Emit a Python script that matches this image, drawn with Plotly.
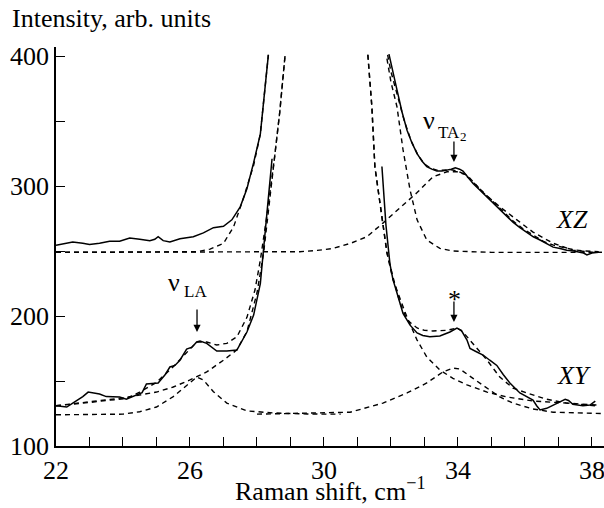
import plotly.graph_objects as go

# ---------------- data ----------------
# XZ spectrum (solid), left and right of the laser line
xz_data_left_x = [22.0, 22.3, 22.5, 22.8, 23.0, 23.3, 23.6, 23.9, 24.2, 24.5, 24.8, 24.95, 25.05, 25.2, 25.4,
                  25.7, 26.1, 26.4, 26.7, 27.0, 27.25, 27.5, 27.7, 27.9, 28.1, 28.34]
xz_data_left_y = [254.5, 256, 257, 256, 255, 256, 257.5, 257.5, 260, 259, 258, 259, 261, 258, 257,
                  259.5, 261, 264, 268, 269, 274, 284, 298, 318, 340, 401]
xz_data_right_x = [31.94, 32.05, 32.18, 32.33, 32.48, 32.63, 32.78, 32.93, 33.07, 33.22, 33.37, 33.52, 33.67,
                   33.8, 33.92, 34.05, 34.15, 34.3, 34.45, 34.65, 34.87, 35.05, 35.25, 35.45, 35.65, 35.85,
                   36.05, 36.25, 36.45, 36.65, 36.84, 37.05, 37.25, 37.45, 37.64, 37.75, 37.85, 38.0, 38.2]
xz_data_right_y = [401.5, 388, 374, 357, 343, 333, 325, 319, 315, 313, 311.5, 311.5, 312,
                   313, 314, 313, 311.5, 307, 302, 297, 291.5, 287, 281.5, 277, 272, 268,
                   264.6, 261, 258.5, 255.5, 253, 252, 250.7, 250, 249, 248.5, 247, 248.5, 249]
# XZ fits (dashed)
xz_center_left_x = [22.0, 25.5, 26.2, 26.6, 27.0, 27.3, 27.6, 27.9, 28.1, 28.34]
xz_center_left_y = [249, 249, 249.5, 251.5, 256, 268.5, 291, 316, 340, 401]
xz_center_right_x = [31.88, 32.0, 32.18, 32.36, 32.57, 32.78, 33.07, 33.46, 33.85, 35.0, 38.3]
xz_center_right_y = [398, 380, 361, 328, 297, 274, 258.5, 252, 250, 249, 249]
xz_ta2_x = [22.0, 28.5, 29.28, 29.8, 30.27, 30.8, 31.28, 31.76, 32.27, 32.78, 33.25, 33.67, 33.97, 34.27,
            34.75, 35.25, 35.76, 36.24, 36.84, 37.43, 38.03, 38.3]
xz_ta2_y = [249, 249, 249.5, 250.5, 252, 256, 261, 271.5, 283, 295, 307, 311, 311, 308.5,
            295, 284, 274, 264.6, 256, 250.7, 249, 249]
xz_total_right_x = [31.9, 32.0, 32.18, 32.4, 32.6, 32.8, 33.0, 33.2, 33.4, 33.6, 33.8, 34.0, 34.2, 34.45,
                    34.75, 35.05, 35.35, 35.65, 35.95, 36.25, 36.55, 36.85, 37.15, 37.45, 37.8, 38.2]
xz_total_right_y = [401, 388, 371, 350, 335, 324, 317, 313.5, 312, 312.5, 312.5, 311.5, 309, 303,
                    295.5, 288, 280, 273, 267, 262, 257.5, 254.5, 252.5, 251, 250, 249.5]

# XY spectrum (solid)
xy_data_left_x = [22.0, 22.32, 22.5, 22.8, 22.96, 23.3, 23.5, 23.9, 24.1, 24.4, 24.57, 24.7, 25.05, 25.25,
                  25.4, 25.55, 25.7, 25.9, 26.06, 26.2, 26.3, 26.5, 26.8, 27.1, 27.4, 27.7, 27.9, 28.1,
                  28.18, 28.3, 28.45]
xy_data_left_y = [131, 130, 133, 138, 141.5, 140, 138, 137.7, 136, 139, 141, 147.7, 148.5, 154.6,
                  160.8, 162, 166, 174.6, 176, 180, 180.8, 179, 173, 173, 173.8, 187.7, 200.7, 225,
                  249, 280, 321]
xy_data_right_x = [31.73, 31.85, 31.97, 32.06, 32.18, 32.36, 32.57, 32.78, 32.95, 33.16, 33.46, 33.76, 33.97,
                   34.1, 34.27, 34.36, 34.55, 34.75, 34.95, 35.16, 35.35, 35.55, 35.85, 36.24, 36.35, 36.45,
                   36.65, 36.96, 37.2, 37.3, 37.43, 37.73, 37.94, 38.1]
xy_data_right_y = [315, 270, 240, 228, 217.7, 202, 193, 187, 185, 184, 184.6, 187.7, 190.8,
                   189, 181.5, 175, 172.5, 170, 166, 162, 155, 148.5, 140.8, 135.4, 131, 127.7,
                   129, 133, 136, 135, 132, 131, 131.5, 134.6]
# XY fits (dashed)
xy_total_left_x = [22.0, 22.5, 23.0, 23.5, 24.1, 24.5, 25.0, 25.5, 25.9, 26.2, 26.5, 26.8, 27.1, 27.4,
                   27.7, 27.94, 28.1, 28.3, 28.52, 28.68, 28.84]
xy_total_left_y = [131, 132, 133.5, 135, 136.5, 141.5, 149, 161, 172, 180, 180, 177.7, 179, 184,
                   199, 220, 243, 278, 321, 357, 401]
xy_center_left_x = [22.0, 23.0, 24.0, 25.0, 25.5, 26.0, 26.5, 27.0, 27.4, 27.7, 28.0, 28.2, 28.52, 28.68, 28.84]
xy_center_left_y = [131, 134, 137, 141.5, 145.4, 150.8, 157, 166, 174, 188, 217.7, 249, 321, 357, 401]
xy_la_x = [22.0, 24.0, 24.5, 25.0, 25.5, 25.9, 26.2, 26.4, 26.7, 27.1, 27.7, 28.5, 29.5, 30.5]
xy_la_y = [124, 124.5, 126.4, 130, 138, 147, 153, 150.8, 141.8, 133, 127, 125.4, 124.6, 124.5]
xy_star_x = [28.0, 29.28, 30.78, 31.76, 32.48, 33.07, 33.55, 33.85, 34.06, 34.45, 34.87, 35.25, 35.64,
             36.24, 36.84, 38.03, 38.3]
xy_star_y = [124.5, 125.4, 126, 133, 140.8, 148.5, 157, 160, 159.2, 152, 144.6, 137.7, 133,
             128.5, 126, 125, 125]
xy_total_right_x = [31.31, 31.43, 31.52, 31.73, 31.88, 32.06, 32.27, 32.48, 32.78, 33.0, 33.25, 33.67, 33.97,
                    34.15, 34.45, 34.87, 35.25, 35.64, 36.05, 36.65, 37.25, 38.15]
xy_total_right_y = [401, 361, 315, 274, 249, 230, 210, 197, 190.8, 189, 188.5, 189, 190.8,
                    187.7, 179, 166, 153, 144.6, 140.8, 136, 133, 131.5]
xy_center_right_x = [31.31, 31.43, 31.52, 31.73, 31.88, 32.06, 32.48, 32.78, 33.07, 33.46, 33.85, 34.27,
                     34.87, 35.46, 36.24, 37.25, 38.15]
xy_center_right_y = [401, 361, 314.6, 274, 248.5, 228, 199, 181.5, 168.5, 158.5, 152, 147,
                     141.5, 137.7, 134.6, 133, 130.8]

x_tick_labels = [22, 26, 30, 34, 38]
y_tick_labels = [100, 200, 300, 400]

# ---------------- figure ----------------
FONT = "Liberation Serif"
fig = go.Figure()

solid = dict(color="black", width=1.5)
dashed = dict(color="black", width=1.4, dash="5px,4px")

series = [
    (xz_center_left_x, xz_center_left_y, dashed),
    (xz_center_right_x, xz_center_right_y, dashed),
    (xz_ta2_x, xz_ta2_y, dashed),
    (xz_total_right_x, xz_total_right_y, dashed),
    (xy_total_left_x, xy_total_left_y, dashed),
    (xy_center_left_x, xy_center_left_y, dashed),
    (xy_la_x, xy_la_y, dashed),
    (xy_star_x, xy_star_y, dashed),
    (xy_total_right_x, xy_total_right_y, dashed),
    (xy_center_right_x, xy_center_right_y, dashed),
    (xz_data_left_x, xz_data_left_y, solid),
    (xz_data_right_x, xz_data_right_y, solid),
    (xy_data_left_x, xy_data_left_y, solid),
    (xy_data_right_x, xy_data_right_y, solid),
]
for xs, ys, ln in series:
    fig.add_trace(go.Scatter(x=xs, y=ys, mode="lines", line=ln, showlegend=False, hoverinfo="skip"))

ann = []
def txt(x, y, s, size, xanchor="center", yanchor="middle", italic=False):
    f = dict(family=FONT, size=size, color="black")
    if italic:
        f["style"] = "italic"
    ann.append(dict(x=x, y=y, xref="x", yref="y", text=s, showarrow=False,
                    xanchor=xanchor, yanchor=yanchor, font=f))

def arrow(x, y, ay):
    ann.append(dict(x=x, y=y, xref="x", yref="y", text="", showarrow=True, ax=0, ay=ay,
                    arrowhead=2, arrowsize=1.1, arrowwidth=1.3, arrowcolor="black",
                    font=dict(family=FONT, size=10)))

# nu_TA2
txt(33.14, 350.5, "ν", 26)
txt(33.73, 341.5, "TA", 17)
txt(34.18, 338.5, "2", 13)
arrow(33.88, 318.5, -22)
# nu_LA
txt(25.53, 226, "ν", 26)
txt(26.15, 218.5, "LA", 17)
arrow(26.21, 187.7, -24)
# star
txt(33.91, 213, "*", 26)
arrow(33.88, 195.4, -22)
# XZ / XY
txt(37.4, 274.6, "XZ", 26, italic=True)
txt(37.46, 154.6, "XY", 26, italic=True)

# axis titles as annotations
ann.append(dict(x=-0.0839, y=1.0702, xref="paper", yref="paper", text="Intensity, arb. units",
                showarrow=False, xanchor="left", yanchor="middle",
                font=dict(family=FONT, size=26, color="black")))
ann.append(dict(x=0.5, y=-0.156, xref="paper", yref="paper", text="Raman shift, cm<sup>−1</sup>",
                showarrow=False, xanchor="center", yanchor="bottom",
                font=dict(family=FONT, size=26, color="black")))

fig.update_layout(
    width=604, height=508,
    margin=dict(l=56, r=0, t=47, b=62),
    paper_bgcolor="white", plot_bgcolor="white",
    font=dict(family=FONT, size=26, color="black"),
    annotations=ann,
    showlegend=False,
)
fig.update_xaxes(
    range=[22, 38.36], showgrid=False, zeroline=False,
    showline=True, linecolor="black", linewidth=1.5,
    tickmode="array", tickvals=x_tick_labels, ticktext=[str(v) for v in x_tick_labels],
    ticks="inside", ticklen=9, tickwidth=1.3, tickcolor="black",
    minor=dict(dtick=1, tick0=22, ticks="inside", ticklen=9, tickwidth=1.3, tickcolor="black", showgrid=False),
    tickfont=dict(family=FONT, size=26), ticklabeloverflow="allow",
)
fig.update_yaxes(
    range=[100, 407], showgrid=False, zeroline=False,
    showline=True, linecolor="black", linewidth=1.5,
    tickmode="array", tickvals=y_tick_labels, ticktext=[str(v) for v in y_tick_labels],
    ticks="inside", ticklen=9, tickwidth=1.3, tickcolor="black",
    minor=dict(dtick=50, tick0=100, ticks="inside", ticklen=9, tickwidth=1.3, tickcolor="black", showgrid=False),
    tickfont=dict(family=FONT, size=26), ticklabeloverflow="allow",
)

fig.write_html("out.html")
